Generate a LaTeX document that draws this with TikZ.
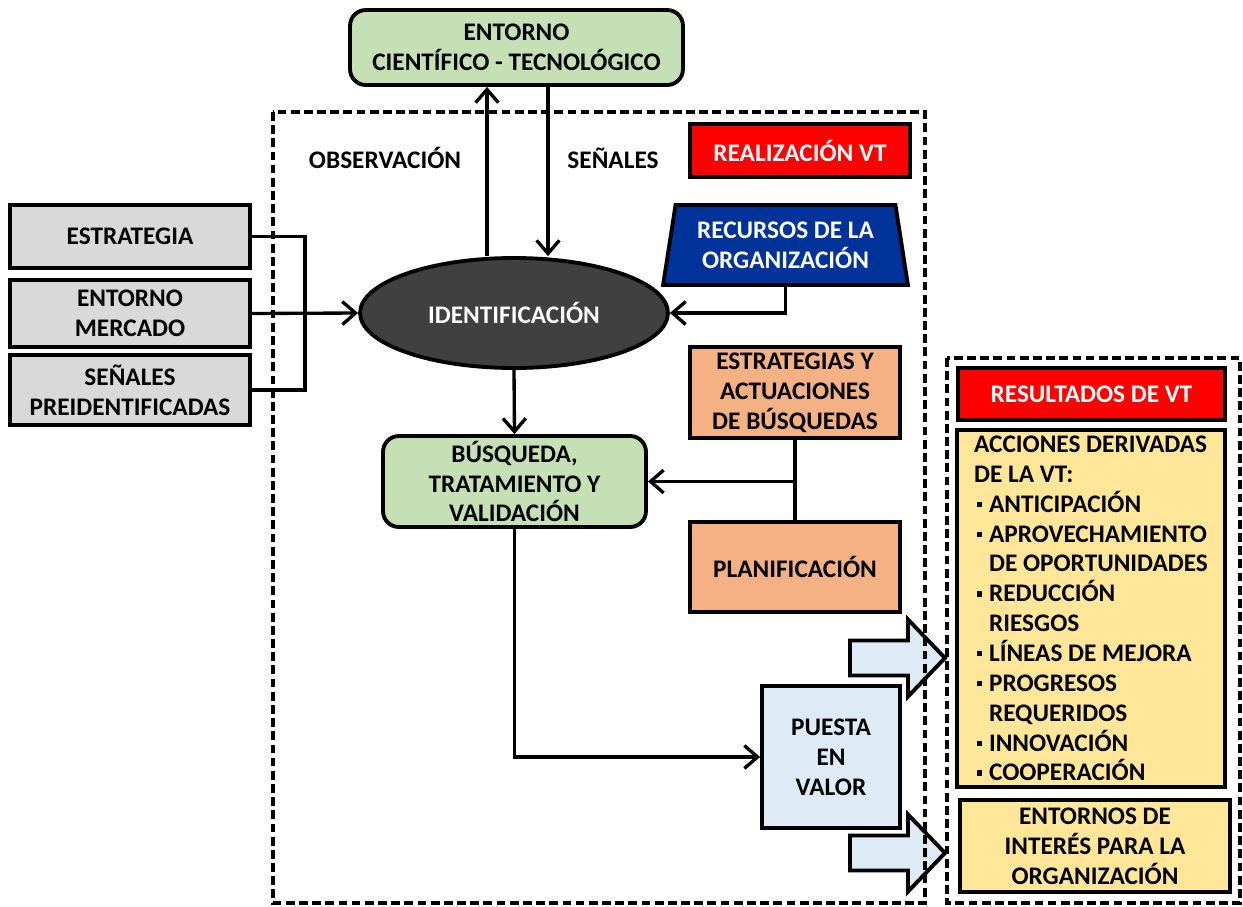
\documentclass[tikz,border=0pt]{standalone}
\usepackage{fontspec}
\setmainfont{Carlito}
\usepackage{tikz}
\usetikzlibrary{positioning, shapes.geometric, arrows.meta}
\usepackage{xcolor}

\definecolor{verde}{HTML}{C5E0B4}
\definecolor{gris}{HTML}{D9D9D9}
\definecolor{naranja}{HTML}{F4B183}
\definecolor{azulclaro}{HTML}{DEEBF7}
\definecolor{azuloscuro}{HTML}{003399}
\definecolor{amarillo}{HTML}{FFE699}
\definecolor{rojo}{HTML}{FF0000}
\definecolor{oscuro}{HTML}{404040}

\newcommand{\vineta}{\makebox[8.5pt][l]{\hspace*{1.5pt}\rule[3pt]{3pt}{3pt}}}
\newcommand{\sangria}{\hspace*{8.5pt}}

\begin{document}
\begin{tikzpicture}[
    x=0.02cm, y=-0.02cm,
    every node/.style={font=\bfseries\fontsize{14.4}{17}\selectfont, align=center},
    caja/.style={draw, line width=2.2pt, inner sep=2pt},
    verdecaja/.style={caja, fill=verde, rounded corners=9pt},
    griscaja/.style={caja, fill=gris, minimum width=4.8cm},
    naranjacaja/.style={caja, fill=naranja, minimum width=4.2cm},
    rojacaja/.style={caja, fill=rojo, text=white},
    amarillacaja/.style={caja, fill=amarillo},
    linea/.style={line width=1.9pt},
    flecha/.style={linea, -{Straight Barb[length=7.5pt,width=13pt]}},
    discontinua/.style={line width=1.9pt, dash pattern=on 5pt off 2.5pt},
    bloque/.style={draw, line width=2.2pt, fill=azulclaro, line join=miter}
]
    \useasboundingbox (0,0) rectangle (1243,906);

    % Entorno y realizacion de la VT
    \node[verdecaja, minimum width=6.66cm, minimum height=1.5cm] (entorno) at (516.5,47.5) {ENTORNO\\CIENTÍFICO - TECNOLÓGICO};
    \node (obs) at (385,158) {OBSERVACIÓN};
    \node (senales) at (613,158) {SEÑALES};
    \node[rojacaja, minimum width=4.4cm, minimum height=1.06cm] (realiz) at (800,150.5) {REALIZACIÓN VT};
    \node[caja, trapezium, trapezium angle=79, trapezium stretches=true, minimum width=4.9cm, minimum height=1.6cm, fill=azuloscuro, text=white] (recursos) at (785.5,245) {RECURSOS DE LA\\ORGANIZACIÓN};
    \node[draw, ellipse, line width=2.2pt, fill=oscuro, text=white, minimum width=6.16cm, minimum height=2.2cm] (ident) at (514,313) {IDENTIFICACIÓN};

    % Entradas
    \node[griscaja, minimum height=1.26cm] (estrategia) at (130,236.5) {ESTRATEGIA};
    \node[griscaja, minimum height=1.34cm] (mercado) at (130,313.5) {ENTORNO\\MERCADO};
    \node[griscaja, minimum height=1.4cm] (preident) at (130,390) {SEÑALES\\PREIDENTIFICADAS};
    \coordinate (union) at (305,313);

    % Busqueda
    \node[verdecaja, minimum width=5.26cm, minimum height=1.82cm] (busqueda) at (514.5,481.5) {BÚSQUEDA,\\TRATAMIENTO Y\\VALIDACIÓN};
    \node[naranjacaja, minimum height=1.82cm] (actuaciones) at (795,392.5) {ESTRATEGIAS Y\\ACTUACIONES\\DE BÚSQUEDAS};
    \node[naranjacaja, minimum height=1.8cm] (planif) at (795,567) {PLANIFICACIÓN};
    \node[caja, fill=azulclaro, minimum width=2.76cm, minimum height=2.84cm] (puesta) at (831,757) {PUESTA\\EN\\VALOR};

    % Resultados
    \node[rojacaja, minimum width=5.34cm, minimum height=1.04cm] (resultados) at (1091.5,394) {RESULTADOS DE VT};
    \node[amarillacaja, align=left, minimum width=5.36cm, minimum height=7.14cm] (acciones) at (1091,608.5) {ACCIONES DERIVADAS\\DE LA VT:\\\vineta ANTICIPACIÓN\\\vineta APROVECHAMIENTO\\\sangria DE OPORTUNIDADES\\\vineta REDUCCIÓN\\\sangria RIESGOS\\\vineta LÍNEAS DE MEJORA\\\vineta PROGRESOS\\\sangria REQUERIDOS\\\vineta INNOVACIÓN\\\vineta COOPERACIÓN};
    \node[amarillacaja, minimum width=5.4cm, minimum height=1.84cm] (interes) at (1095,846) {ENTORNOS DE\\INTERÉS PARA LA\\ORGANIZACIÓN};

    % Conexiones
    \draw[flecha] ([xshift=-0.54cm]ident.north) -- ([xshift=-0.54cm]ident.north |- entorno.south);
    \draw[flecha] ([xshift=0.68cm]ident.north |- entorno.south) -- ([xshift=0.68cm]ident.north);
    \draw[linea] (estrategia.east) -| (union) |- (preident.east);
    \draw[flecha] (mercado.east) -- (ident.west);
    \draw[flecha] (recursos.south) |- (ident.east);
    \draw[flecha] (ident.south) -- (busqueda.north);
    \draw[linea] (actuaciones.south) -- (planif.north);
    \draw[flecha] (actuaciones.south |- busqueda.east) -- (busqueda.east);
    \draw[flecha] (busqueda.south) |- (puesta.west);

    % Flechas de bloque
    \foreach \y in {658,853}
        \filldraw[bloque] (850,\y-17.5) -- (908,\y-17.5) -- (908,\y-38.5) -- (945,\y)
            -- (908,\y+38.5) -- (908,\y+17.5) -- (850,\y+17.5) -- cycle;

    % Recuadros discontinuos
    \draw[discontinua] (273,112) rectangle (925,903);
    \draw[discontinua] (947,358) rectangle (1240,903);
\end{tikzpicture}
\end{document}
